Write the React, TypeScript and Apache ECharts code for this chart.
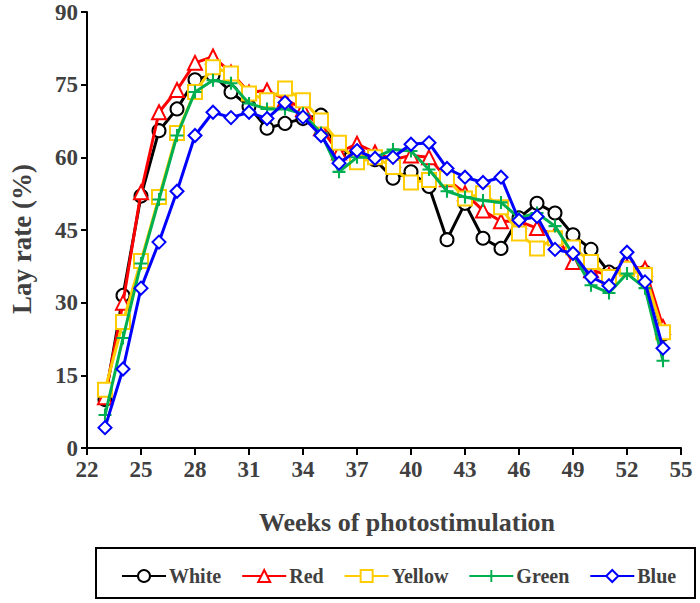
import React, { useEffect, useRef } from "react";
import * as echarts from "echarts";

const weeks = [23, 24, 25, 26, 27, 28, 29, 30, 31, 32, 33, 34, 35, 36, 37, 38, 39, 40, 41, 42, 43, 44, 45, 46, 47, 48, 49, 50, 51, 52, 53, 54];

const white = [10, 31.5, 52, 65.5, 70, 76, 77, 73.5, 70.5, 66, 67, 68, 68.7, 61, 61, 59.5, 55.7, 57, 54, 43, 50.5, 43.3, 41.2, 47.5, 50.5, 48.5, 44, 41, 36.3, 38, 36.3, 23.5];
const red = [10.5, 30, 52.8, 69.3, 73.9, 79.5, 80.8, 77.5, 73.4, 73.8, 72, 70, 66, 61, 62.8, 61, 59.5, 60.4, 60, 55.5, 52.6, 49, 46.8, 46.8, 45.4, 44, 38.4, 36.7, 35.7, 37.5, 37, 25];
const yellow = [12, 26, 38.6, 51.8, 65, 73.5, 78.6, 77.3, 73.2, 71.8, 74.2, 71.8, 67.6, 63, 59, 60, 58, 54.8, 55.3, 55.7, 51.5, 52.6, 49.7, 44.3, 41.2, 43.3, 41.4, 38.4, 35.3, 37, 35.7, 23.9];
const green = [6.8, 22.7, 38.1, 51.3, 64.5, 73.5, 75.9, 75.3, 71.1, 70, 70, 69, 65, 57, 60, 60, 61.6, 61.3, 57.5, 53, 51.8, 51.1, 50.7, 47.5, 48.5, 45.8, 40, 33.6, 32, 36, 33, 18];
const blue = [4.2, 16.3, 33, 42.5, 53, 64.5, 69.3, 68.2, 69.3, 68, 71.3, 68.3, 64.5, 58.8, 61.4, 59.8, 60, 62.7, 63, 57.7, 55.9, 54.8, 55.9, 47, 47.8, 41, 40.2, 35.3, 33.5, 40.4, 34.3, 20.6];

const seriesNames = ["White", "Red", "Yellow", "Green", "Blue"];
const xTicks = { min: 22, max: 55, interval: 3 };
const yTicks = { min: 0, max: 90, interval: 15 };

const FONT = "Liberation Serif";
const plusPath =
  "path://M4.2,0 L5.8,0 L5.8,4.2 L10,4.2 L10,5.8 L5.8,5.8 L5.8,10 L4.2,10 L4.2,5.8 L0,5.8 L0,4.2 L4.2,4.2 Z";

export default function App() {
  const ref = useRef<HTMLDivElement>(null);
  useEffect(() => {
    document.body.style.margin = "0";
    const chart = echarts.init(ref.current!, null, { renderer: "svg" });
    const values = [white, red, yellow, green, blue];
    const colors = ["#000000", "#ff0000", "#ffcc00", "#00b050", "#0000ff"];
    const symbols = ["circle", "triangle", "rect", plusPath, "diamond"];
    const sizes = [13, 14, 14, 13, 13];
    const series = seriesNames.map((name, i) => {
      const isPlus = i === 3;
      return {
        name,
        type: "line",
        data: weeks.map((w, j) => [w, values[i][j]]),
        symbol: symbols[i],
        symbolSize: sizes[i],
        showAllSymbol: true,
        lineStyle: { color: colors[i], width: 3 },
        itemStyle: isPlus
          ? { color: colors[i], borderWidth: 0 }
          : { color: "#ffffff", borderColor: colors[i], borderWidth: 2 },
        emphasis: { disabled: true },
        z: 2 + i,
      };
    });
    chart.setOption({
      animation: false,
      grid: { left: 87, right: 19, top: 12, bottom: 155, containLabel: false },
      xAxis: {
        type: "value",
        min: xTicks.min,
        max: xTicks.max,
        interval: xTicks.interval,
        name: "Weeks of photostimulation",
        nameLocation: "middle",
        nameGap: 61,
        nameTextStyle: { fontFamily: FONT, fontWeight: "bold", fontSize: 26, color: "#404040", padding: [0, 0, 0, 46] },
        axisLine: { show: true, lineStyle: { color: "#000", width: 2 } },
        axisTick: { show: true, inside: false, length: 7, lineStyle: { color: "#000", width: 2 } },
        axisLabel: { fontFamily: FONT, fontWeight: "bold", fontSize: 23, color: "#404040", margin: 10 },
        splitLine: { show: false },
      },
      yAxis: {
        type: "value",
        min: yTicks.min,
        max: yTicks.max,
        interval: yTicks.interval,
        name: "Lay rate (%)",
        nameLocation: "middle",
        nameGap: 52,
        nameRotate: 90,
        nameTextStyle: { fontFamily: FONT, fontWeight: "bold", fontSize: 27, color: "#404040", padding: [0, 18, 0, 0] },
        axisLine: { show: true, lineStyle: { color: "#000", width: 2 } },
        axisTick: { show: true, inside: false, length: 6, lineStyle: { color: "#000", width: 2 } },
        axisLabel: { fontFamily: FONT, fontWeight: "bold", fontSize: 23, color: "#404040", margin: 9 },
        splitLine: { show: false },
      },
      legend: {
        data: seriesNames,
        left: 116,
        top: 561,
        itemWidth: 44,
        itemHeight: 15,
        itemGap: 20,
        textStyle: { fontFamily: FONT, fontWeight: "bold", fontSize: 20, color: "#404040", padding: [0, 0, 0, -2] },
      },
      graphic: [
        {
          type: "rect",
          shape: { x: 96, y: 548, width: 599, height: 50 },
          style: { fill: "none", stroke: "#000", lineWidth: 2 },
          silent: true,
        },
      ],
      series,
    });
    return () => chart.dispose();
  }, []);
  return <div ref={ref} style={{ width: 700, height: 603 }} />;
}
